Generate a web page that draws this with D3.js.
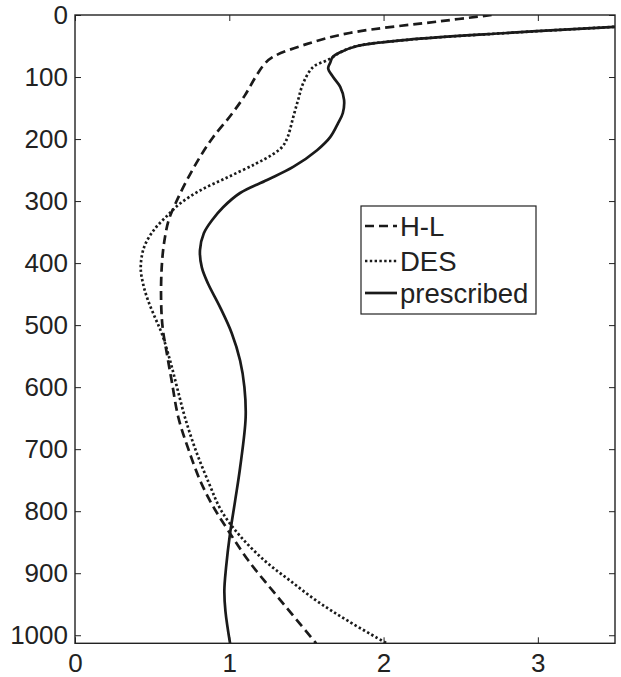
<!DOCTYPE html>
<html>
<head>
<meta charset="utf-8">
<script src="https://cdn.jsdelivr.net/npm/d3@7"></script>
<style>
  html, body { margin: 0; padding: 0; background: #fff; }
  svg { display: block; }
  text { font-family: "Liberation Sans", Arial, Helvetica, sans-serif; fill: #222; }
</style>
</head>
<body>
<svg id="chart" width="621" height="677"></svg>
<script>
// ---- data (pressure levels and values) ----
const xTicks = [0, 1, 2, 3];
const yTicks = [0, 100, 200, 300, 400, 500, 600, 700, 800, 900, 1000];

const seriesNames = ["H-L", "DES", "prescribed"];

const hlP = [0, 10, 29, 47, 68, 80, 100, 130, 160, 197, 229, 266, 302, 331, 368, 407, 460, 504, 541, 589, 649, 700, 750, 790, 830, 880, 940, 1013];
const hlX = [2.70, 2.37, 1.78, 1.50, 1.28, 1.225, 1.17, 1.10, 1.015, 0.895, 0.81, 0.726, 0.655, 0.607, 0.577, 0.562, 0.558, 0.568, 0.592, 0.626, 0.67, 0.735, 0.81, 0.89, 0.99, 1.125, 1.32, 1.563];

const desP = [0, 19, 29, 40, 50, 60, 68, 73, 84, 110, 137, 165, 197, 212, 225, 240, 262, 283, 304, 323, 347, 375, 407, 433, 460, 488, 513, 557, 601, 649, 700, 756, 800, 840, 880, 912, 945, 977, 1013];
const desX = [4.8, 3.5, 2.80, 2.153, 1.83, 1.72, 1.67, 1.634, 1.543, 1.479, 1.446, 1.414, 1.378, 1.345, 1.28, 1.17, 0.986, 0.81, 0.681, 0.60, 0.51, 0.447, 0.426, 0.441, 0.473, 0.519, 0.562, 0.616, 0.662, 0.713, 0.78, 0.87, 0.95, 1.07, 1.23, 1.394, 1.569, 1.77, 2.02];

const preP = [0, 19, 29, 40, 50, 60, 68, 77, 86, 100, 116, 137, 158, 174, 197, 218, 245, 266, 287, 310, 331, 352, 379, 407, 433, 471, 513, 557, 600, 649, 730, 783, 836, 891, 928, 961, 1013];
const preX = [4.8, 3.5, 2.80, 2.153, 1.83, 1.72, 1.67, 1.654, 1.641, 1.673, 1.719, 1.744, 1.736, 1.706, 1.654, 1.569, 1.414, 1.245, 1.07, 0.96, 0.888, 0.835, 0.81, 0.822, 0.862, 0.94, 1.016, 1.07, 1.098, 1.106, 1.07, 1.038, 1.005, 0.979, 0.968, 0.975, 1.005];

// ---- layout ----
const svg = d3.select("#chart");
const L = 75, R = 615, T = 15, B = 643.3;
const x = d3.scaleLinear().domain([0, 3.5]).range([L, R]);
const y = d3.scaleLinear().domain([0, 1013]).range([T, B]);

svg.append("defs").append("clipPath").attr("id", "clip")
  .append("rect").attr("x", L).attr("y", T).attr("width", R - L).attr("height", B - T);

const styles = {
  "H-L": { dash: "9,5", width: 2.7 },
  "DES": { dash: "2.4,2.4", width: 2.7 },
  "prescribed": { dash: null, width: 2.7 }
};
const series = [
  { name: "H-L", p: hlP, v: hlX },
  { name: "DES", p: desP, v: desX },
  { name: "prescribed", p: preP, v: preX }
];

const line = d3.line()
  .x(d => x(d[1]))
  .y(d => y(d[0]))
  .curve(d3.curveCatmullRom.alpha(0.5));

const g = svg.append("g").attr("clip-path", "url(#clip)");
series.forEach(s => {
  const pts = s.p.map((p, i) => [p, s.v[i]]);
  g.append("path")
    .attr("d", line(pts))
    .attr("fill", "none")
    .attr("stroke", "#1a1a1a")
    .attr("stroke-width", styles[s.name].width)
    .attr("stroke-dasharray", styles[s.name].dash)
    .attr("stroke-linejoin", "round");
});

// ---- axes (ticks inward on all four sides) ----
const tl = 6;
const axB = svg.append("g").attr("transform", `translate(0,${B})`)
  .call(d3.axisBottom(x).tickValues(xTicks).tickFormat(d3.format("d")).tickSizeInner(-tl).tickSizeOuter(0).tickPadding(10));
const axT = svg.append("g").attr("transform", `translate(0,${T})`)
  .call(d3.axisTop(x).tickValues(xTicks).tickFormat("").tickSizeInner(-tl).tickSizeOuter(0));
const axL = svg.append("g").attr("transform", `translate(${L},0)`)
  .call(d3.axisLeft(y).tickValues(yTicks).tickFormat(d3.format("d")).tickSizeInner(-tl).tickSizeOuter(0).tickPadding(7));
const axR = svg.append("g").attr("transform", `translate(${R},0)`)
  .call(d3.axisRight(y).tickValues(yTicks).tickFormat("").tickSizeInner(-tl).tickSizeOuter(0));

[axB, axT, axL, axR].forEach(a => {
  a.select(".domain").remove();
  a.selectAll("line").attr("stroke", "#222").attr("stroke-width", 1);
  a.selectAll("text").attr("font-size", 26).attr("fill", "#1e1e1e")
    .attr("font-family", "Liberation Sans, Arial, sans-serif");
});
axB.selectAll("text").attr("dy", "0.71em");

svg.append("rect").attr("x", L).attr("y", T).attr("width", R - L).attr("height", B - T)
  .attr("fill", "none").attr("stroke", "#222").attr("stroke-width", 1.4);

// ---- legend ----
const lg = svg.append("g");
lg.append("rect").attr("x", 361).attr("y", 206).attr("width", 175).attr("height", 108)
  .attr("fill", "#fff").attr("stroke", "#222").attr("stroke-width", 1.2);
const rowY = [226, 261, 293];
seriesNames.forEach((n, i) => {
  lg.append("line").attr("x1", 365).attr("x2", 397).attr("y1", rowY[i]).attr("y2", rowY[i])
    .attr("stroke", "#1a1a1a").attr("stroke-width", styles[n].width)
    .attr("stroke-dasharray", styles[n].dash);
  lg.append("text").attr("x", 400).attr("y", rowY[i]).attr("dy", "0.36em")
    .attr("font-size", 27.5).attr("fill", "#1e1e1e").text(n);
});
</script>
</body>
</html>
